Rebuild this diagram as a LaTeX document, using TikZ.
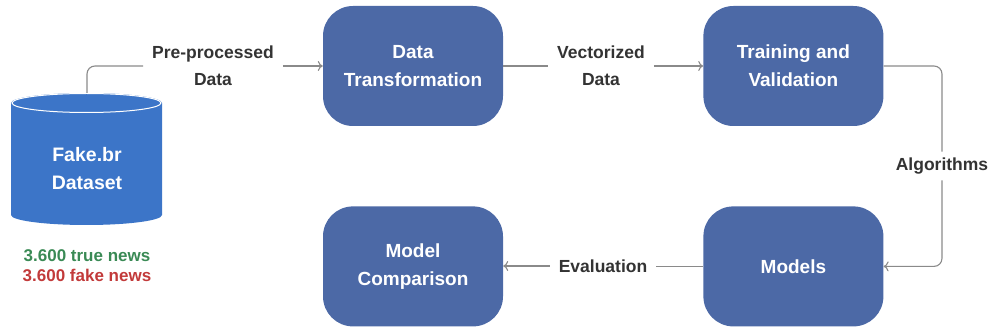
\documentclass[tikz,border=0pt]{standalone}
\usepackage{fontspec}
\setmainfont{Liberation Sans}
\usetikzlibrary{positioning,arrows.meta}

\definecolor{boxblue}{HTML}{4C69A6}
\definecolor{dbblue}{HTML}{3C75C8}
\definecolor{linegray}{HTML}{8A8A8A}
\definecolor{textgray}{HTML}{333333}
\definecolor{truegreen}{HTML}{3A8A55}
\definecolor{fakered}{HTML}{C23A3A}

\tikzset{
  stage/.style={rectangle, rounded corners=30pt, fill=boxblue, minimum width=180pt,
    minimum height=120pt, text=white, align=center,
    font=\fontsize{19}{28}\selectfont\bfseries},
  lbl/.style={fill=white, text=textgray, align=center, inner xsep=9pt,
    font=\fontsize{17.5}{27}\selectfont\bfseries},
  flow/.style={draw=linegray, line width=1.1pt, rounded corners=8pt},
  flowarrow/.style={flow, -{To[length=5pt,width=10pt]}}
}

\begin{document}
\begin{tikzpicture}[x=1pt, y=-1pt]
  \useasboundingbox (0,0) rectangle (989,331);

  % dataset cylinder
  \fill[dbblue] (11,103) -- (11,215) arc[start angle=180, end angle=0, x radius=75.5, y radius=10]
    -- (162,103) arc[start angle=0, end angle=-180, x radius=75.5, y radius=10] -- cycle;
  \draw[white, line width=1pt] (86.5,103) ellipse [x radius=74.5, y radius=9.5];
  \coordinate (dbtop) at (87,93);
  \node[text=white, align=center, font=\fontsize{19.5}{28}\selectfont\bfseries] (db) at (87,169) {Fake.br\\Dataset};
  \node[align=center, font=\fontsize{17}{20}\selectfont\bfseries] (counts) at (87,266)
    {\textcolor{truegreen}{3.600 true news}\\\textcolor{fakered}{3.600 fake news}};

  % stages
  \node[stage] (trans) at (413,66) {Data\\Transformation};
  \node[stage, right=200pt of trans] (train) {Training and\\Validation};
  \node[stage, below=80pt of trans] (comp) {Model\\Comparison};
  \node[stage, right=200pt of comp] (models) {Models};

  % labels on the connectors
  \node[lbl] (pre) at (213,66) {Pre-processed\\Data};
  \node[lbl] (vect) at (601,66) {Vectorized\\Data};
  \node[lbl, inner ysep=6pt] (alg) at (942,166) {Algorithms};
  \node[lbl] (eval) at (603,266) {Evaluation};

  % connectors
  \draw[flow] (dbtop) |- (pre.west);
  \draw[flowarrow] (pre.east) -- (pre.east -| trans.west);
  \draw[flow] (trans.east) -- (trans.east -| vect.west);
  \draw[flowarrow] (vect.east) -- (vect.east -| train.west);
  \draw[flow] (train.east) -| (alg.north);
  \draw[flowarrow] (alg.south) |- (models.east);
  \draw[flow] (models.west) -- (models.west -| eval.east);
  \draw[flowarrow] (eval.west) -- (eval.west -| comp.east);
\end{tikzpicture}
\end{document}
